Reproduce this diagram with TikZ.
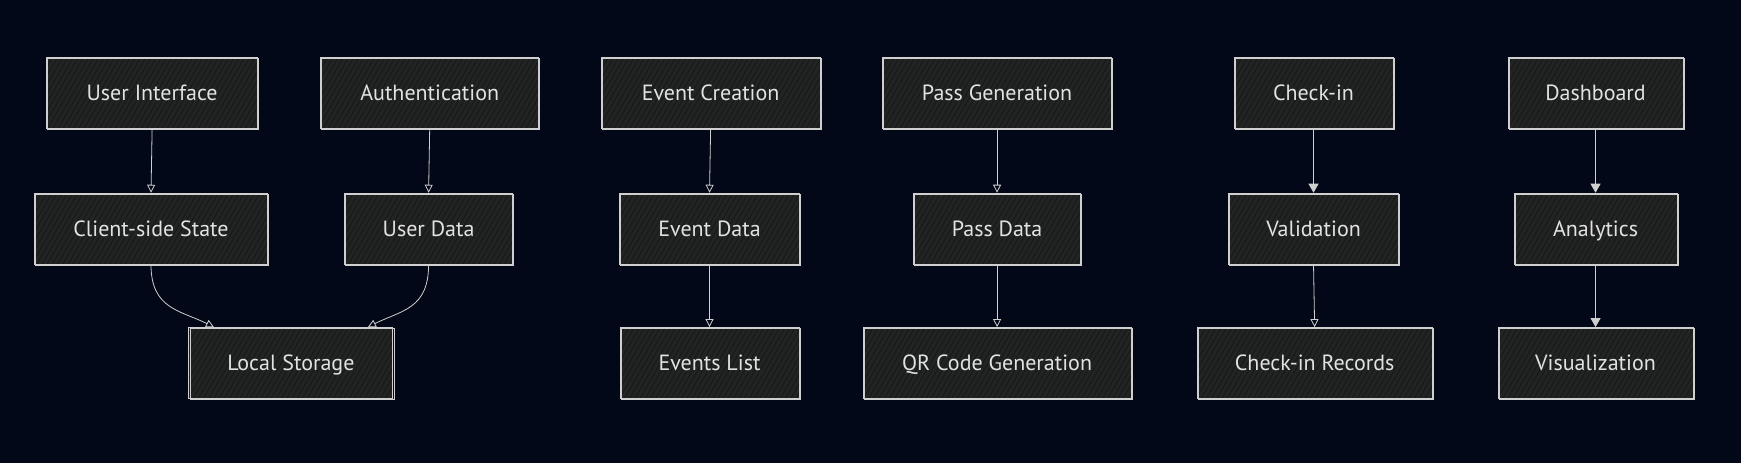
\documentclass[tikz,border=0pt]{standalone}
\usepackage{fontspec}
\setmainfont{PT Sans}
\usetikzlibrary{arrows.meta,patterns.meta}
\definecolor{bg}{HTML}{020817}
\definecolor{boxfill}{HTML}{222323}
\definecolor{hatch}{HTML}{161717}
\definecolor{edge}{HTML}{CFCFCF}
\definecolor{txt}{HTML}{E2E2E2}
\tikzset{
  box/.style={rectangle, preaction={fill=boxfill},
    pattern={Lines[angle=60,distance=4.5pt,line width=0.8pt]}, pattern color=hatch,
    draw=edge, line width=1pt,
    postaction={draw=edge, line width=0.45pt, transform canvas={shift={(0.9pt,-0.8pt)}}},
    minimum height=71pt, inner sep=0pt, text=txt,
    text height=17pt, text depth=2pt,
    font=\fontsize{22}{26}\selectfont},
  link/.style={draw=edge, line width=0.8pt, -{Triangle[open,length=8pt,width=8pt]}},
  linkf/.style={draw=edge, line width=0.8pt, -{Triangle[length=9pt,width=10pt]}}
}
\begin{document}
\begin{tikzpicture}[x=1.1103pt,y=-1.1103pt]
\fill[bg] (0,0) rectangle (1568,417);
\useasboundingbox (0,0) rectangle (1568,417);
% nodes
\node[box, minimum width=211pt] (ui) at (137,84) {User Interface};
\node[box, minimum width=218pt] (auth) at (387,84) {Authentication};
\node[box, minimum width=233pt] (css) at (136,206) {Client-side State};
\node[box, minimum width=168pt] (ud) at (386,206) {User Data};
\node[box, minimum width=204pt] (ls) at (262,327) {Local Storage};
\node[box, minimum width=219pt] (ec) at (640,84) {Event Creation};
\node[box, minimum width=229pt] (pg) at (898,84) {Pass Generation};
\node[box, minimum width=180pt] (ed) at (639,206) {Event Data};
\node[box, minimum width=167pt] (pd) at (898,206) {Pass Data};
\node[box, minimum width=179pt] (el) at (639,327) {Events List};
\node[box, minimum width=268pt] (qr) at (898,327) {QR Code Generation};
\node[box, minimum width=159pt] (ci) at (1183,84) {Check-in};
\node[box, minimum width=175pt] (db) at (1437,84) {Dashboard};
\node[box, minimum width=170pt] (va) at (1183,206) {Validation};
\node[box, minimum width=163pt] (an) at (1437,206) {Analytics};
\node[box, minimum width=235pt] (cr) at (1184,327) {Check-in Records};
\node[box, minimum width=195pt] (vi) at (1437,327) {Visualization};
% edges
\draw[link] (ui.south) -- (css.north);
\draw[link] (auth.south) -- (ud.north);
\draw[link] (css.south) .. controls +(0,40) and +(-30,-15) .. ([xshift=-77pt]ls.north);
\draw[link] (ud.south) .. controls +(0,40) and +(30,-15) .. ([xshift=77pt]ls.north);
\draw[link] (ec.south) -- (ed.north);
\draw[link] (ed.south) -- (el.north);
\draw[link] (pg.south) -- (pd.north);
\draw[link] (pd.south) -- (qr.north);
\draw[linkf] (ci.south) -- (va.north);
\draw[link] (va.south) -- (cr.north);
\draw[linkf] (db.south) -- (an.north);
\draw[linkf] (an.south) -- (vi.north);
\end{tikzpicture}
\end{document}
